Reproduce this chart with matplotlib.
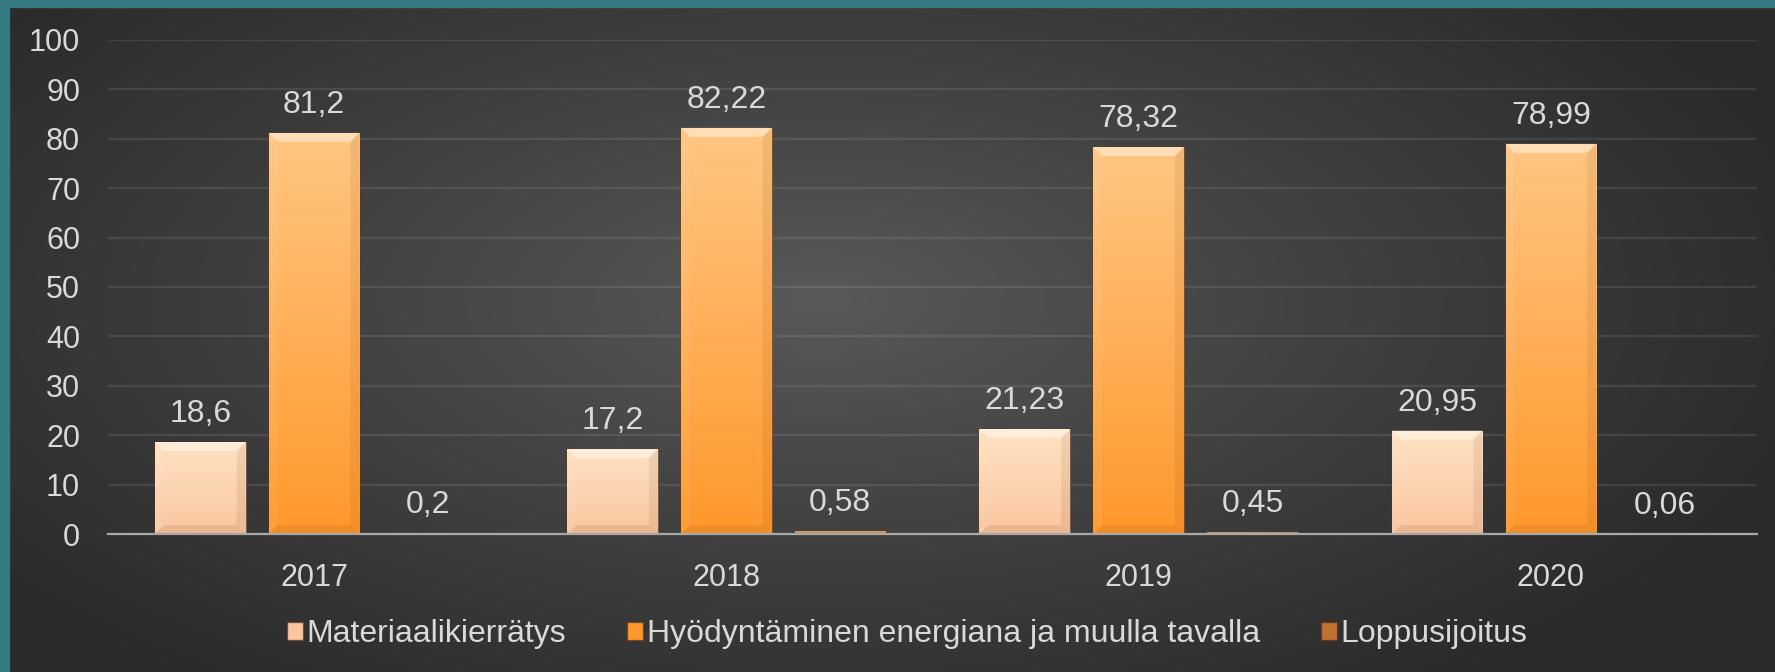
import numpy as np
import matplotlib
matplotlib.use('Agg')
import matplotlib.pyplot as plt
from matplotlib.patches import Rectangle, Polygon
from matplotlib.colors import to_rgb

plt.rcParams['font.family'] = ['Liberation Sans', 'DejaVu Sans']

years = ['2017', '2018', '2019', '2020']
series = ['Materiaalikierrätys',
          'Hyödyntäminen energiana ja muulla tavalla',
          'Loppusijoitus']
materiaali = [18.6, 17.2, 21.23, 20.95]
hyodyntaminen = [81.2, 82.22, 78.32, 78.99]
loppusijoitus = [0.2, 0.58, 0.45, 0.06]
labels = [['18,6', '17,2', '21,23', '20,95'],
          ['81,2', '82,22', '78,32', '78,99'],
          ['0,2', '0,58', '0,45', '0,06']]

# top / bottom gradient colours per series
grads = [('#ffe2c2', '#fac6a0'),
         ('#ffc683', '#ff982c'),
         ('#e9a46a', '#c0702f')]

W, H = 1775, 672
fig = plt.figure(figsize=(W / 100, H / 100), dpi=100)

# background: dark radial gradient
bg = fig.add_axes([0, 0, 1, 1])
yy, xx = np.mgrid[0:H, 0:W]
d = np.sqrt(((xx - 820) / 1050.) ** 2 + ((yy - 300) / 480.) ** 2)
d = np.clip(d, 0, 1) ** 0.9
c0 = np.array(to_rgb('#5a5a5a'))
c1 = np.array(to_rgb('#2a2a2a'))
img = c0[None, None, :] * (1 - d[..., None]) + c1[None, None, :] * d[..., None]
bg.imshow(img, extent=(0, W, H, 0), aspect='auto')
bg.add_patch(Rectangle((0, 0), W, 7, color='#337b81'))
bg.add_patch(Rectangle((0, 0), 9, H, color='#337b81'))
bg.set_xlim(0, W)
bg.set_ylim(H, 0)
bg.axis('off')

x0, x1, ytop, ybot = 108, 1757, 40, 534
ax = fig.add_axes([x0 / W, 1 - ybot / H, (x1 - x0) / W, (ybot - ytop) / H])
ax.patch.set_alpha(0)
ax.set_xlim(-0.5, 3.5)
ax.set_ylim(0, 100)
ax.set_yticks(np.arange(0, 101, 10))
ax.set_xticks(range(4))
ax.set_xticklabels(years)
ax.grid(axis='y', color='white', alpha=0.09, lw=1.6)
ax.set_axisbelow(True)
for s in ['top', 'right', 'left']:
    ax.spines[s].set_visible(False)
ax.spines['bottom'].set_color('#a8a8a8')
ax.spines['bottom'].set_linewidth(1.6)
ax.tick_params(axis='both', length=0, labelsize=22, labelcolor='#d9d9d9')
ax.tick_params(axis='y', pad=20)
ax.tick_params(axis='x', pad=21)

px_x = (x1 - x0) / 4.0
px_y = (ybot - ytop) / 100.0
width = 0.22
offsets = [-0.276, 0.0, 0.276]
bev = 9

data = [materiaali, hyodyntaminen, loppusijoitus]
for k, vals in enumerate(data):
    top_c, bot_c = grads[k]
    grad = np.linspace(0, 1, 256)[:, None, None]
    gimg = np.array(to_rgb(top_c)) * (1 - grad) + np.array(to_rgb(bot_c)) * grad
    bars = ax.bar(np.arange(4) + offsets[k], vals, width,
                  color=bot_c, edgecolor=(0.35, 0.2, 0.1, 0.5), lw=1, zorder=2)
    for b, v, lab in zip(bars, vals, labels[k]):
        bx, bw = b.get_x(), b.get_width()
        im = ax.imshow(gimg, extent=(bx, bx + bw, 0, v), aspect='auto',
                       origin='upper', zorder=2.1)
        im.set_clip_path(b)
        dx = bev / px_x
        dy = bev / px_y
        if v > 2 * dy:
            xa, xb = bx, bx + bw
            ax.add_patch(Polygon([(xa, v), (xb, v), (xb - dx, v - dy), (xa + dx, v - dy)],
                                 closed=True, fc=(1, 1, 1, 0.42), ec='none', zorder=2.2))
            ax.add_patch(Polygon([(xa, 0), (xb, 0), (xb - dx, dy), (xa + dx, dy)],
                                 closed=True, fc=(0.4, 0.2, 0.05, 0.10), ec='none', zorder=2.2))
            ax.add_patch(Polygon([(xb, v), (xb, 0), (xb - dx, dy), (xb - dx, v - dy)],
                                 closed=True, fc=(0.4, 0.2, 0.05, 0.09), ec='none', zorder=2.2))
            ax.add_patch(Polygon([(xa, v), (xa, 0), (xa + dx, dy), (xa + dx, v - dy)],
                                 closed=True, fc=(1, 1, 1, 0.06), ec='none', zorder=2.2))
        ax.annotate(lab, (bx + bw / 2, v), xytext=(0, 20), textcoords='offset points',
                    ha='center', va='center', fontsize=23, color='#d9d9d9')

handles = [Rectangle((0, 0), 1, 1, fc=grads[k][1], ec=(0.35, 0.2, 0.1, 0.6))
           for k in range(3)]
fig.legend(handles, series, loc='center', bbox_to_anchor=(907 / W, 1 - 634 / H),
           ncol=3, frameon=False, fontsize=23, labelcolor='#d9d9d9',
           handlelength=0.5, handleheight=0.5, handletextpad=0.12,
           columnspacing=1.9)

fig.savefig('out.png', dpi=100)
